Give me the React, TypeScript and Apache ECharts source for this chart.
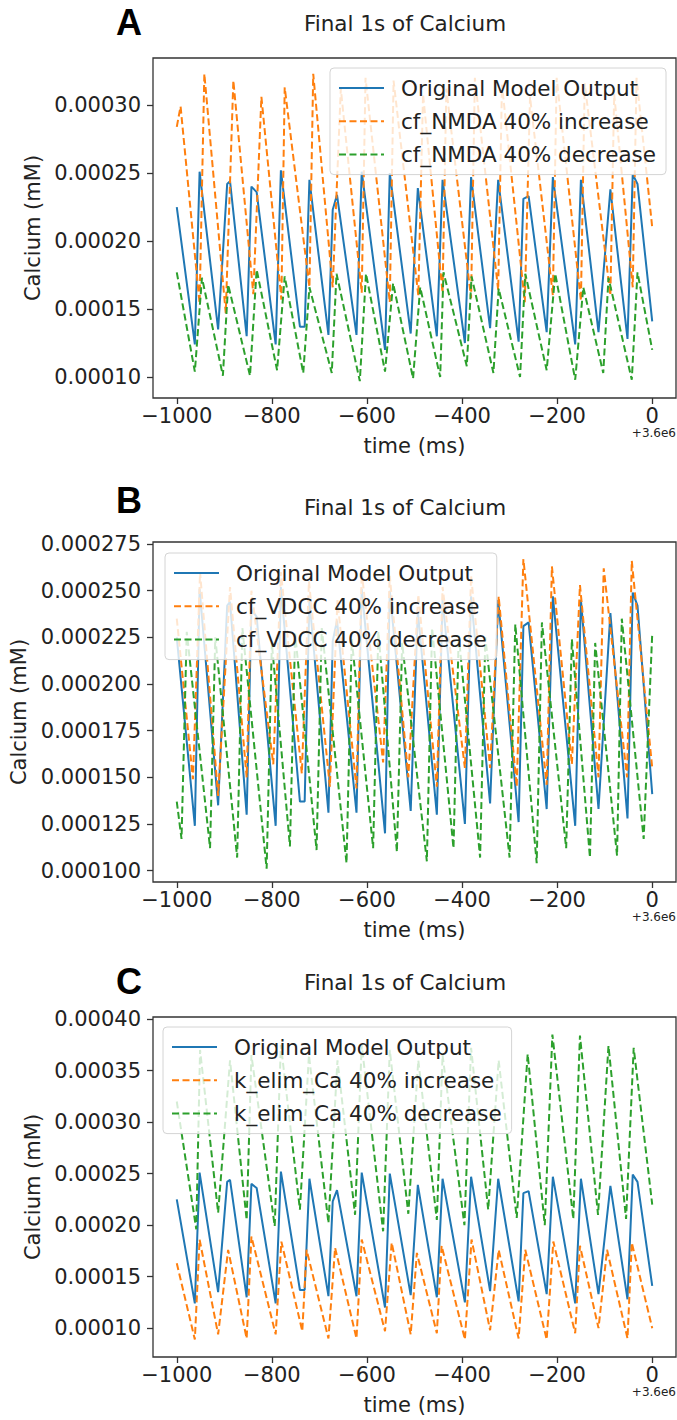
import React, { useEffect, useRef } from "react";
import * as echarts from "echarts";

// ---------- data (time in ms relative to 3.6e6, calcium in mM) ----------
const xTicks = [-1000, -800, -600, -400, -200, 0];
const yTicksA = [1e-4, 1.5e-4, 2e-4, 2.5e-4, 3e-4];
const yTicksB = [1e-4, 1.25e-4, 1.5e-4, 1.75e-4, 2e-4, 2.25e-4, 2.5e-4, 2.75e-4];
const yTicksC = [1e-4, 1.5e-4, 2e-4, 2.5e-4, 3e-4, 3.5e-4, 4e-4];

const original: [number, number][] = [
  [-1000, 2.25e-4], [-962, 1.24e-4], [-952, 2.51e-4], [-913, 1.35e-4], [-894, 2.42e-4], [-888, 2.44e-4],
  [-853, 1.3e-4], [-843, 2.4e-4], [-832, 2.36e-4], [-792, 1.24e-4], [-781, 2.52e-4], [-741, 1.37e-4],
  [-731, 1.37e-4], [-721, 2.45e-4], [-681, 1.31e-4], [-672, 2.23e-4], [-663, 2.34e-4], [-622, 1.31e-4],
  [-611, 2.51e-4], [-562, 1.2e-4], [-552, 2.5e-4], [-508, 1.32e-4], [-493, 2.39e-4], [-453, 1.3e-4],
  [-441, 2.45e-4], [-394, 1.25e-4], [-381, 2.47e-4], [-341, 1.36e-4], [-324, 2.45e-4], [-281, 1.26e-4],
  [-271, 2.31e-4], [-260, 2.33e-4], [-222, 1.33e-4], [-209, 2.47e-4], [-162, 1.24e-4], [-150, 2.45e-4],
  [-113, 1.33e-4], [-88, 2.38e-4], [-52, 1.28e-4], [-41, 2.49e-4], [-31, 2.42e-4], [0, 1.41e-4],
];

const nmdaUp: [number, number][] = [
  [-1000, 2.84e-4], [-992, 2.99e-4], [-952, 1.54e-4], [-942, 3.23e-4], [-897, 1.47e-4], [-881, 3.18e-4],
  [-839, 1.61e-4], [-822, 3.06e-4], [-780, 1.57e-4], [-773, 3.13e-4], [-721, 1.66e-4], [-713, 3.23e-4],
  [-672, 1.66e-4], [-655, 3.12e-4], [-611, 1.62e-4], [-603, 3.2e-4], [-552, 1.55e-4], [-544, 3.18e-4],
  [-492, 1.6e-4], [-482, 3.08e-4], [-441, 1.62e-4], [-433, 3.12e-4], [-381, 1.58e-4], [-373, 3.2e-4],
  [-324, 1.64e-4], [-316, 3.15e-4], [-268, 1.55e-4], [-257, 3.06e-4], [-209, 1.6e-4], [-201, 3.2e-4],
  [-150, 1.56e-4], [-142, 3.16e-4], [-88, 1.6e-4], [-80, 3.08e-4], [-41, 1.66e-4], [-33, 3.2e-4], [0, 2.1e-4],
];

const nmdaDown: [number, number][] = [
  [-1000, 1.77e-4], [-962, 1.04e-4], [-947, 1.73e-4], [-903, 1.01e-4], [-892, 1.68e-4], [-846, 1.01e-4],
  [-832, 1.79e-4], [-789, 1.05e-4], [-773, 1.74e-4], [-734, 1.03e-4], [-721, 1.66e-4], [-674, 1.03e-4],
  [-664, 1.76e-4], [-615, 0.97e-4], [-602, 1.76e-4], [-562, 1.04e-4], [-545, 1.69e-4], [-503, 0.99e-4],
  [-488, 1.66e-4], [-446, 1.0e-4], [-439, 1.77e-4], [-390, 1.08e-4], [-380, 1.74e-4], [-334, 1.03e-4],
  [-323, 1.65e-4], [-278, 1.0e-4], [-267, 1.76e-4], [-222, 1.05e-4], [-204, 1.76e-4], [-162, 0.98e-4],
  [-145, 1.66e-4], [-103, 1.03e-4], [-92, 1.73e-4], [-43, 0.98e-4], [-31, 1.77e-4], [0, 1.2e-4],
];

const vdccUp: [number, number][] = [
  [-1000, 2.35e-4], [-966, 1.49e-4], [-951, 2.6e-4], [-913, 1.4e-4], [-888, 2.52e-4], [-853, 1.5e-4],
  [-843, 2.5e-4], [-797, 1.57e-4], [-781, 2.6e-4], [-737, 1.52e-4], [-722, 2.55e-4], [-678, 1.45e-4],
  [-662, 2.45e-4], [-622, 1.44e-4], [-611, 2.6e-4], [-566, 1.58e-4], [-552, 2.58e-4], [-513, 1.5e-4],
  [-492, 2.48e-4], [-453, 1.45e-4], [-441, 2.52e-4], [-394, 1.55e-4], [-381, 2.58e-4], [-341, 1.55e-4],
  [-323, 2.47e-4], [-285, 1.45e-4], [-271, 2.67e-4], [-222, 1.46e-4], [-211, 2.63e-4], [-169, 1.57e-4],
  [-152, 2.53e-4], [-113, 1.5e-4], [-102, 2.62e-4], [-53, 1.5e-4], [-43, 2.66e-4], [0, 1.55e-4],
];

const vdccDown: [number, number][] = [
  [-1000, 1.37e-4], [-990, 1.17e-4], [-979, 2.28e-4], [-930, 1.12e-4], [-919, 2.25e-4], [-873, 1.07e-4],
  [-862, 2.3e-4], [-811, 1.01e-4], [-800, 2.22e-4], [-762, 1.13e-4], [-751, 2.27e-4], [-706, 1.11e-4],
  [-695, 2.3e-4], [-643, 1.04e-4], [-632, 2.24e-4], [-587, 1.12e-4], [-576, 2.28e-4], [-537, 1.1e-4],
  [-526, 2.22e-4], [-474, 1.05e-4], [-463, 2.3e-4], [-418, 1.12e-4], [-407, 2.26e-4], [-362, 1.07e-4],
  [-351, 2.25e-4], [-300, 1.07e-4], [-288, 2.32e-4], [-243, 1.04e-4], [-232, 2.33e-4], [-181, 1.12e-4],
  [-169, 2.24e-4], [-131, 1.07e-4], [-120, 2.22e-4], [-74, 1.08e-4], [-64, 2.35e-4], [-18, 1.17e-4], [0, 2.27e-4],
];

const elimUp: [number, number][] = [
  [-1000, 1.63e-4], [-962, 0.89e-4], [-952, 1.86e-4], [-913, 0.94e-4], [-892, 1.76e-4], [-853, 0.9e-4],
  [-843, 1.89e-4], [-792, 0.94e-4], [-780, 1.84e-4], [-736, 0.97e-4], [-727, 1.76e-4], [-681, 0.9e-4],
  [-667, 1.78e-4], [-622, 0.9e-4], [-611, 1.86e-4], [-562, 0.97e-4], [-548, 1.83e-4], [-508, 0.94e-4],
  [-495, 1.73e-4], [-453, 0.95e-4], [-443, 1.8e-4], [-394, 0.89e-4], [-380, 1.86e-4], [-341, 0.98e-4],
  [-323, 1.76e-4], [-281, 0.9e-4], [-267, 1.76e-4], [-222, 0.89e-4], [-208, 1.84e-4], [-162, 0.95e-4],
  [-152, 1.8e-4], [-113, 1.0e-4], [-95, 1.76e-4], [-52, 0.9e-4], [-43, 1.83e-4], [0, 1.0e-4],
];

const elimDown: [number, number][] = [
  [-1000, 3.2e-4], [-959, 1.96e-4], [-951, 3.7e-4], [-913, 2.12e-4], [-888, 3.6e-4], [-853, 2.05e-4],
  [-843, 3.65e-4], [-794, 1.99e-4], [-781, 3.75e-4], [-741, 2.15e-4], [-722, 3.65e-4], [-681, 2.02e-4],
  [-662, 3.6e-4], [-625, 2.1e-4], [-611, 3.75e-4], [-566, 1.94e-4], [-552, 3.7e-4], [-513, 2.11e-4],
  [-492, 3.6e-4], [-453, 2.05e-4], [-441, 3.65e-4], [-395, 2.0e-4], [-381, 3.72e-4], [-345, 2.15e-4],
  [-323, 3.6e-4], [-285, 2.07e-4], [-262, 3.66e-4], [-226, 2.0e-4], [-210, 3.85e-4], [-166, 2.06e-4],
  [-152, 3.84e-4], [-114, 2.1e-4], [-92, 3.74e-4], [-55, 2.06e-4], [-39, 3.72e-4], [0, 2.2e-4],
];

const seriesNames = [
  ["Original Model Output", "cf_NMDA 40% increase", "cf_NMDA 40% decrease"],
  ["Original Model Output", "cf_VDCC 40% increase", "cf_VDCC 40% decrease"],
  ["Original Model Output", "k_elim_Ca 40% increase", "k_elim_Ca 40% decrease"],
];
const panelLetters = ["A", "B", "C"];
const titleText = "Final 1s of Calcium";
const xName = "time (ms)";
const yName = "Calcium (mM)";
const offsetText = "+3.6e6";

// ---------- layout ----------
const COLORS = ["#1f77b4", "#ff7f0e", "#2ca02c"];
const FONT = "DejaVu Sans";
const TXT = "#222";
const GL = 153;
const GW = 523;
const GH = 340;

const panels = [
  { top: 58, yMin: 0.846e-4, yMax: 3.346e-4, ticks: yTicksA, dec: 5, data: [original, nmdaUp, nmdaDown],
    legend: { right: 11, top: 68 }, yGap: 107, letterY: 22, titleY: 23 },
  { top: 542, yMin: 0.939e-4, yMax: 2.761e-4, ticks: yTicksB, dec: 6, data: [original, vdccUp, vdccDown],
    legend: { left: 165, top: 553 }, yGap: 122, letterY: 500, titleY: 507 },
  { top: 1017, yMin: 0.72e-4, yMax: 4.02e-4, ticks: yTicksC, dec: 5, data: [original, elimUp, elimDown],
    legend: { left: 163, top: 1027 }, yGap: 107, letterY: 981, titleY: 982 },
];

function fmtX(v: number) {
  return v < 0 ? "\u2212" + Math.abs(v) : String(v);
}

export default function App() {
  const ref = useRef<HTMLDivElement>(null);
  useEffect(() => {
    document.body.style.margin = "0";
    const chart = echarts.init(ref.current!, null, { renderer: "svg" });
    const grid: any[] = [];
    const xAxis: any[] = [];
    const yAxis: any[] = [];
    const legend: any[] = [];
    const series: any[] = [];
    const graphic: any[] = [];

    panels.forEach((p, i) => {
      grid.push({ left: GL, top: p.top, width: GW, height: GH, show: true, borderColor: "#333", borderWidth: 1.3, backgroundColor: "#fff" });
      xAxis.push({
        type: "value", gridIndex: i, min: -1050, max: 50,
        name: xName, nameLocation: "middle", nameGap: 37,
        nameTextStyle: { fontSize: 21, color: TXT, fontFamily: FONT },
        axisLine: { show: false, onZero: false },
        axisTick: { show: true, length: 6, customValues: xTicks, lineStyle: { color: "#333", width: 1.3 } },
        axisLabel: { customValues: xTicks, formatter: fmtX, fontSize: 21, lineHeight: 20, color: TXT, fontFamily: FONT, margin: 8 },
        splitLine: { show: false },
      });
      yAxis.push({
        type: "value", gridIndex: i, min: p.yMin, max: p.yMax,
        name: yName, nameLocation: "middle", nameGap: p.yGap,
        nameTextStyle: { fontSize: 21, color: TXT, fontFamily: FONT },
        axisLine: { show: false, onZero: false },
        axisTick: { show: true, length: 6, customValues: p.ticks, lineStyle: { color: "#333", width: 1.3 } },
        axisLabel: { customValues: p.ticks, formatter: (v: number) => v.toFixed(p.dec), fontSize: 21, color: TXT, fontFamily: FONT, margin: 12 },
        splitLine: { show: false },
      });
      legend.push({
        ...p.legend,
        orient: "vertical",
        data: seriesNames[i],
        selectedMode: false,
        itemWidth: 45,
        itemHeight: 14,
        itemGap: 7.3,
        padding: [7, 10, 7, 8],
        backgroundColor: "rgba(255,255,255,0.8)",
        borderColor: "#d4d4d4",
        borderWidth: 1,
        borderRadius: 4,
        itemStyle: { opacity: 0 },
        textStyle: { fontSize: 21.5, lineHeight: 26, color: TXT, fontFamily: FONT, padding: [0, 0, 0, 12] },
      });
      p.data.forEach((d, k) => {
        series.push({
          type: "line",
          name: seriesNames[i][k],
          xAxisIndex: i,
          yAxisIndex: i,
          data: d,
          symbol: "none",
          clip: true,
          lineStyle: { color: COLORS[k], width: 2, type: k === 0 ? "solid" : [7, 3.5] },
          itemStyle: { color: COLORS[k] },
        });
      });
      graphic.push({
        type: "text", x: 129, y: p.letterY,
        style: { text: panelLetters[i], font: "bold 36px 'Liberation Sans'", lineHeight: 30, fill: "#000", align: "center", verticalAlign: "middle", textAlign: "center", textVerticalAlign: "middle" },
      });
      graphic.push({
        type: "text", x: 405, y: p.titleY,
        style: { text: titleText, font: "21.5px 'DejaVu Sans'", fill: TXT, align: "center", verticalAlign: "middle", textAlign: "center", textVerticalAlign: "middle" },
      });
      graphic.push({
        type: "text", x: GL + GW, y: p.top + GH + 29,
        style: { text: offsetText, font: "12px 'DejaVu Sans'", lineHeight: 12, fill: TXT, align: "right", verticalAlign: "top", textAlign: "right", textVerticalAlign: "top" },
      });
    });

    chart.setOption({
      animation: false,
      backgroundColor: "#fff",
      textStyle: { fontFamily: FONT },
      grid, xAxis, yAxis, legend, series, graphic,
    });
    return () => chart.dispose();
  }, []);
  return <div ref={ref} style={{ width: 677, height: 1420 }} />;
}
